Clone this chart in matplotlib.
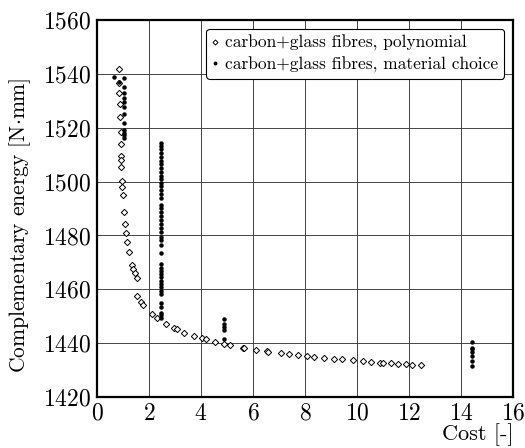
import matplotlib
matplotlib.use("Agg")
import matplotlib.pyplot as plt

# polynomial solutions (open diamonds)
poly_cost = [0.85, 0.83, 0.85, 0.88, 0.88, 0.91, 0.94, 0.94, 0.94, 0.94,
             0.96, 0.97, 0.99, 1.04, 1.09, 1.13, 1.15, 1.24, 1.35, 1.40,
             1.45, 1.53, 1.54, 1.68, 1.76, 2.12, 2.30, 2.65, 2.97, 3.09,
             3.36, 3.72, 4.05, 4.18, 4.54, 4.90, 5.12, 5.63, 5.67, 6.12,
             6.53, 6.59, 7.06, 7.40, 7.73, 8.09, 8.36, 8.73, 9.10, 9.42,
             9.86, 10.24, 10.55, 10.90, 11.00, 11.31, 11.56, 11.87, 12.13, 12.46]
poly_energy = [1541.7, 1536.5, 1533.0, 1529.0, 1523.9, 1518.3, 1514.0, 1509.5, 1508.0, 1505.3,
               1500.2, 1498.1, 1495.0, 1488.8, 1484.1, 1480.8, 1477.7, 1474.0, 1469.0, 1467.5,
               1465.9, 1464.1, 1457.5, 1455.4, 1454.2, 1450.7, 1449.4, 1447.2, 1445.7, 1445.1,
               1443.9, 1442.7, 1442.0, 1441.4, 1440.5, 1439.6, 1439.2, 1438.3, 1438.1, 1437.6,
               1437.0, 1436.9, 1436.2, 1435.9, 1435.5, 1435.1, 1434.9, 1434.5, 1434.1, 1434.0,
               1433.6, 1433.3, 1433.0, 1432.7, 1432.6, 1432.5, 1432.3, 1432.1, 1432.0, 1431.8]

# material choice solutions (filled dots), grouped by cost
mat1_cost = [0.65, 0.83] + [1.05] * 12
mat1_energy = [1538.8, 1537.0, 1538.5, 1535.0, 1533.0, 1531.2, 1529.5, 1527.8,
               1525.2, 1521.6, 1519.0, 1518.1, 1517.2, 1516.2]
mat2_energy = [1514.4, 1513.2, 1512.0, 1510.7, 1509.2, 1507.7, 1506.4, 1504.9, 1503.7, 1502.2,
               1500.8, 1499.6, 1498.4, 1496.9, 1495.4, 1493.8, 1491.3, 1490.1, 1488.8, 1487.2,
               1485.7, 1484.2, 1482.6, 1481.4, 1479.5, 1478.3, 1476.4, 1473.6,
               1469.3, 1468.0, 1466.9, 1465.7, 1464.4, 1463.2, 1462.0, 1460.7, 1459.5, 1458.2,
               1455.0, 1453.5, 1451.3, 1450.3, 1449.2]
mat2_cost = [2.47] * len(mat2_energy)
mat3_energy = [1448.9, 1447.1, 1445.9, 1444.9, 1441.4]
mat3_cost = [4.88] * len(mat3_energy)
mat4_energy = [1440.5, 1438.3, 1437.7, 1436.8, 1435.3, 1433.4, 1431.6]
mat4_cost = [14.42] * len(mat4_energy)

mat_cost = mat1_cost + mat2_cost + mat3_cost + mat4_cost
mat_energy = mat1_energy + mat2_energy + mat3_energy + mat4_energy

plt.rcParams["font.family"] = "serif"
plt.rcParams["font.serif"] = ["cmr10"]
plt.rcParams["mathtext.fontset"] = "cm"
plt.rcParams["axes.formatter.use_mathtext"] = True

fig = plt.figure(figsize=(5.25, 4.48), dpi=100)
ax = fig.add_axes([0.1848, 0.1138, 0.7924, 0.8415])

ax.plot(poly_cost, poly_energy, "D", ms=3.2, mfc="white", mec="black", mew=0.7,
        ls="none", label="carbon+glass fibres, polynomial", zorder=3)
ax.plot(mat_cost, mat_energy, "o", ms=2.2, color="black",
        ls="none", label="carbon+glass fibres, material choice", zorder=4)

ax.set_xlim(0, 16)
ax.set_ylim(1420, 1560)
ax.set_xticks(range(0, 17, 2))
ax.set_yticks(range(1420, 1561, 20))
ax.tick_params(length=0, labelsize=17, pad=4)
ax.grid(True, color="#444444", lw=0.7)
for s in ax.spines.values():
    s.set_linewidth(1.6)

ax.set_xlabel("Cost [-]", fontsize=16, loc="right", labelpad=-1)
ax.set_ylabel(r"Complementary energy [N$\cdot$mm]", fontsize=15.5)
ax.yaxis.set_label_coords(-0.155, 0.455)

leg = ax.legend(loc="upper right", fontsize=12.5, frameon=True, fancybox=True,
                edgecolor="black", framealpha=1, handlelength=0.3,
                handletextpad=0.45, borderpad=0.35, labelspacing=0.3,
                borderaxespad=0.5, markerscale=0.8)
leg.get_frame().set_linewidth(0.8)

fig.savefig("out.png", dpi=100)
